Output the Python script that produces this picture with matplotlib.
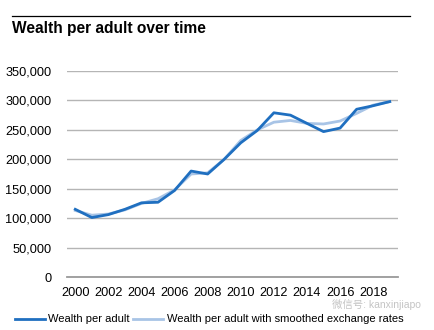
import matplotlib
matplotlib.use("Agg")
import matplotlib.pyplot as plt
from matplotlib.lines import Line2D

plt.rcParams['font.family'] = ['Liberation Sans', 'Noto Sans CJK SC', 'DejaVu Sans']

years = list(range(2000, 2020))
wealth = [115000, 101000, 106000, 115000, 126000, 127000, 147000, 180000, 175000, 200000,
          228000, 249000, 279000, 275000, 261000, 247000, 253000, 285000, 291000, 298000]
smoothed = [113000, 105000, 107000, 114000, 125000, 133000, 148000, 175000, 177000, 200000,
            232000, 250000, 263000, 266000, 261000, 260000, 265000, 278000, 292000, 298000]
xtick_labels = [str(y) for y in range(2000, 2019, 2)]
ytick_values = list(range(0, 350001, 50000))

dark = '#1f6fc0'
light = '#a8c4e6'

fig = plt.figure(figsize=(4.35, 3.3), dpi=100)
ax = fig.add_axes([67/435, 1-277/330, (398-67)/435, (277-71)/330])

ax.plot(years, smoothed, color=light, lw=2.0, zorder=3, solid_joinstyle='round')
ax.plot(years, wealth, color=dark, lw=2.0, zorder=4, solid_joinstyle='round')

ax.set_xlim(1999.5, 2019.5)
ax.set_ylim(0, 350000)
ax.set_yticks(ytick_values)
ax.set_yticklabels([f"{v:,}" for v in ytick_values], fontsize=9.2)
ax.set_xticks(list(range(2000, 2019, 2)))
ax.set_xticklabels(xtick_labels, fontsize=9.2)
ax.tick_params(axis='y', length=0, pad=11)
ax.tick_params(axis='x', length=0, pad=7)
ax.grid(axis='y', color='#b5b5b5', lw=1.0)
ax.set_axisbelow(True)
for s in ['top', 'right', 'left']:
    ax.spines[s].set_visible(False)
ax.spines['bottom'].set_color('#9a9a9a')
ax.spines['bottom'].set_linewidth(1.3)

# title and rule
fig.add_artist(Line2D([12/435, 410/435], [1-16/330, 1-16/330], color='black', lw=0.9))
fig.text(12/435, 1-29/330, 'Wealth per adult over time', fontsize=11.2, fontweight='bold',
         va='center', ha='left')

# legend
ly = 1-319/330
fig.add_artist(Line2D([15/435, 45/435], [ly, ly], color=dark, lw=2.0))
fig.text(48/435, ly, 'Wealth per adult', fontsize=8.0, va='center', ha='left')
fig.add_artist(Line2D([133/435, 163/435], [ly, ly], color=light, lw=2.0))
fig.text(167/435, ly, 'Wealth per adult with smoothed exchange rates', fontsize=8.0,
         va='center', ha='left')

fig.text(332/435, 1-304/330, '微信号: kanxinjiapo', fontsize=7.5, color='#c4c4c4',
         va='center', ha='left')

fig.savefig('out.png', dpi=100)
